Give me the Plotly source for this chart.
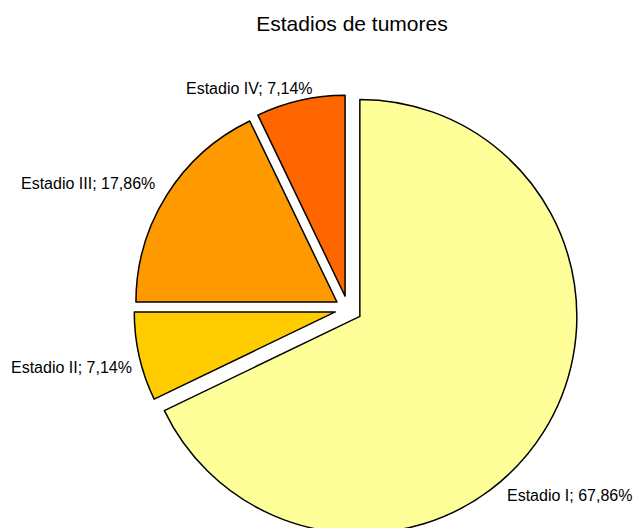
import plotly.graph_objects as go

title = "Estadios de tumores"
labels = ["Estadio I", "Estadio II", "Estadio III", "Estadio IV"]
values = [19, 2, 5, 2]
colors = ["#FFFF99", "#FFCC00", "#FF9900", "#FF6600"]

total = sum(values)
pct_text = [f"{l}; {v / total * 100:.2f}%".replace(".", ",") for l, v in zip(labels, values)]

W, H = 633, 540
CX, CY = 348, 309          # pie centre in pixels
R_BIG, PULL_BIG = 217, 0.0645   # radius of the large slice
R_SMALL, PULL_SMALL = 201, 0.065  # radius of the smaller slices

CLEAR = "rgba(0,0,0,0)"
big = [i == 0 for i in range(len(values))]


def dom(r, p):
    half = r * (1 + p)
    return dict(x=[(CX - half) / W, (CX + half) / W],
                y=[max(0, 1 - (CY + half) / H), 1 - (CY - half) / H])


common = dict(labels=labels, values=values, sort=False, direction="clockwise",
              rotation=0, textinfo="none", showlegend=False)

fig = go.Figure()
fig.add_trace(go.Pie(
    **common,
    pull=[PULL_BIG if b else 0 for b in big],
    marker=dict(colors=[c if b else CLEAR for c, b in zip(colors, big)],
                line=dict(color="#000000", width=[1.5 if b else 0 for b in big])),
    hoverinfo="label+percent",
    domain=dom(R_BIG, PULL_BIG),
))
fig.add_trace(go.Pie(
    **common,
    pull=[0 if b else PULL_SMALL for b in big],
    marker=dict(colors=[CLEAR if b else c for c, b in zip(colors, big)],
                line=dict(color="#000000", width=[0 if b else 1.5 for b in big])),
    hoverinfo="label+percent",
    domain=dom(R_SMALL, PULL_SMALL),
))

# label anchor positions in pixels (center x, center y)
label_pos = [(569, 495), (71, 367), (88, 183), (249, 89)]
for txt, (px, py) in zip(pct_text, label_pos):
    fig.add_annotation(
        x=px / W, y=1 - py / H, xref="paper", yref="paper",
        text=txt, showarrow=False, xanchor="center", yanchor="middle",
        font=dict(family="Liberation Sans, Arial, sans-serif", size=16, color="#000000"),
    )

fig.update_layout(
    width=W, height=H,
    margin=dict(l=0, r=0, t=0, b=0),
    paper_bgcolor="#FFFFFF",
    plot_bgcolor="#FFFFFF",
    title=dict(text=title, x=352 / W, xanchor="center", y=1 - 24 / H, yanchor="middle",
               font=dict(family="Liberation Sans, Arial, sans-serif", size=21, color="#000000")),
)

fig.write_html(
    "out.html",
    config={"displayModeBar": False},
    post_script="document.body.style.margin='0';document.documentElement.style.overflow='hidden';document.body.style.overflow='hidden';",
)
